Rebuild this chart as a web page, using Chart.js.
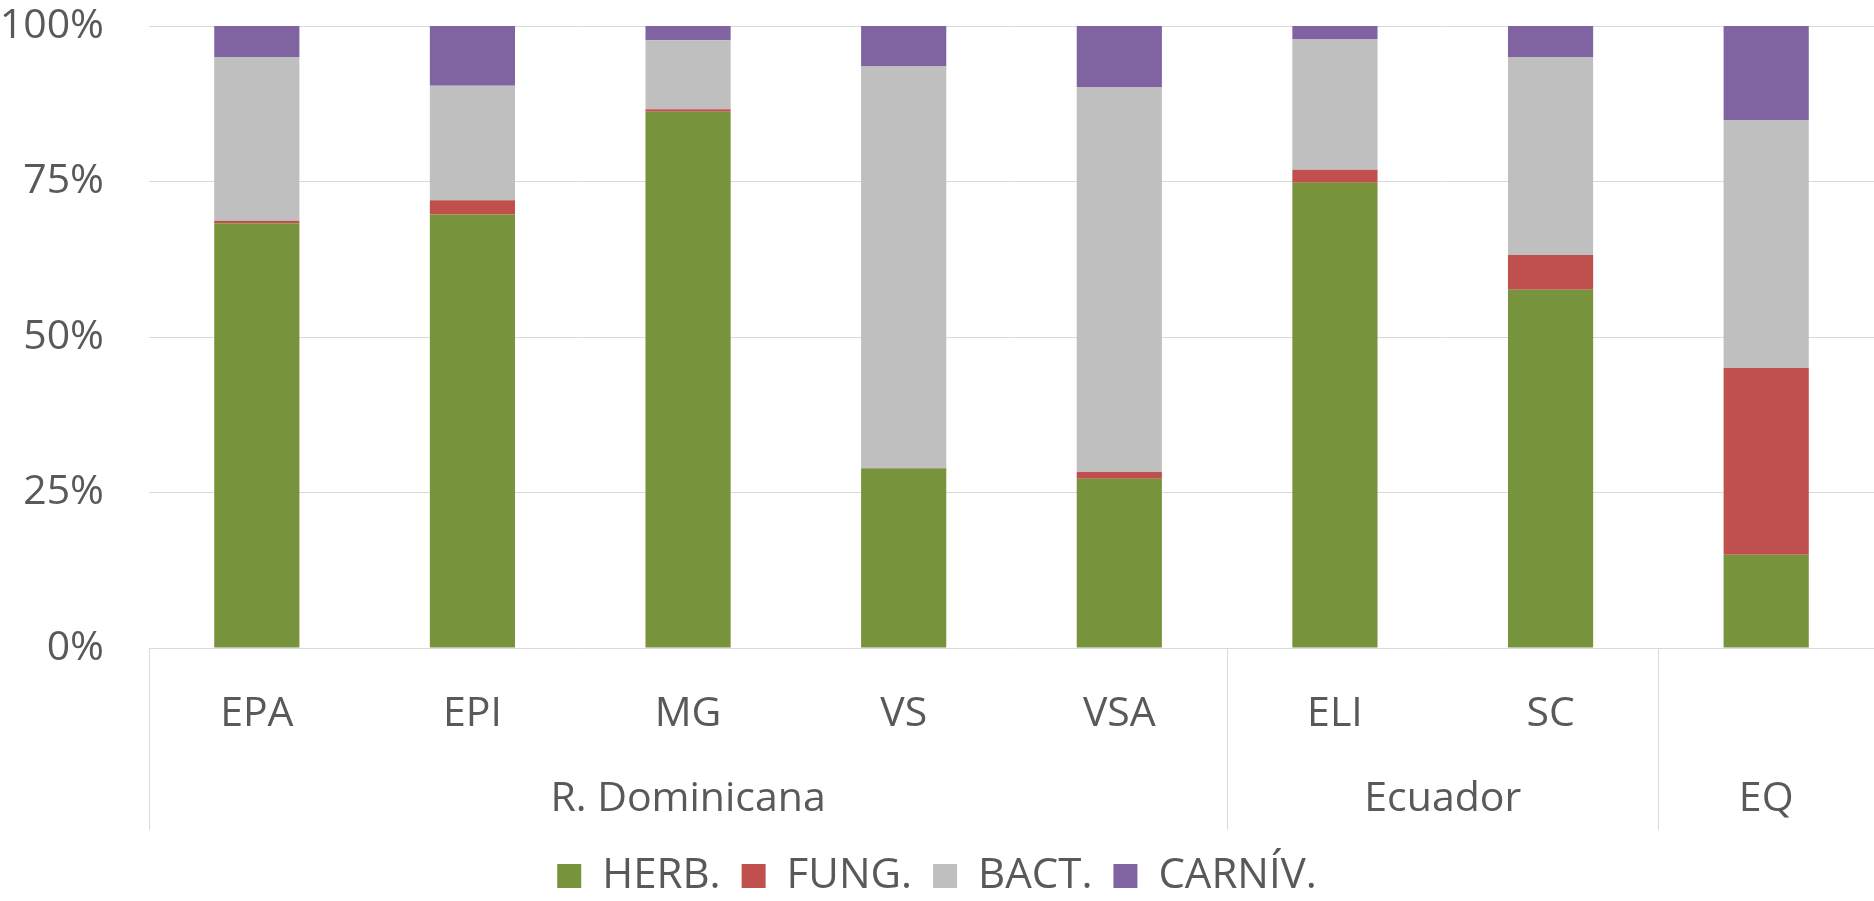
<!DOCTYPE html>
<html>
<head>
<meta charset="utf-8">
<script src="https://cdn.jsdelivr.net/npm/chart.js@4.4.1/dist/chart.umd.min.js"></script>
<style>
  html, body { margin: 0; padding: 0; background: #ffffff; }
  #wrap { width: 1874px; height: 901px; position: relative; }
</style>
</head>
<body>
<div id="wrap"><canvas id="c"></canvas></div>
<script>
// ---- data ----
const categories = ['EPA', 'EPI', 'MG', 'VS', 'VSA', 'ELI', 'SC', ''];
const groupNames = ['R. Dominicana', 'Ecuador', 'EQ'];
const groupSizes = [5, 2, 1];
const herb   = [68.3, 69.7, 86.2, 28.9, 27.2, 74.8, 57.6, 15.0];
const fung   = [ 0.4,  2.3,  0.4,  0.0,  1.1,  2.1,  5.6, 30.0];
const bact   = [26.3, 18.4, 11.1, 64.6, 61.9, 21.0, 31.8, 39.9];
const carniv = [ 5.0,  9.6,  2.3,  6.5,  9.8,  2.1,  5.0, 15.1];
const seriesNames = ['HERB.', 'FUNG.', 'BACT.', 'CARNÍV.'];
const yTicks = [0, 25, 50, 75, 100];

const colors = ['#77933C', '#C0504D', '#BFBFBF', '#8064A2'];
const FONT = '"Open Sans", "Liberation Sans", sans-serif';
const TXT = '#595959';
const LINE = '#D9D9D9';

// group centers (in category index units) built from group sizes
const groupCenters = [];
const groupBounds = [0];
(function () {
  let start = 0;
  groupSizes.forEach(s => {
    groupCenters.push(start + (s - 1) / 2);
    start += s;
    groupBounds.push(start);
  });
})();

const separatorPlugin = {
  id: 'separators',
  afterDraw(chart) {
    const x = chart.scales.x;
    const x2 = chart.scales.x2;
    const ctx = chart.ctx;
    ctx.save();
    ctx.strokeStyle = LINE;
    ctx.lineWidth = 1;
    groupBounds.forEach(b => {
      const px = Math.round(x.getPixelForValue(b - 0.5)) + 0.5;
      ctx.beginPath();
      ctx.moveTo(px, chart.chartArea.bottom);
      ctx.lineTo(px, x2.bottom - 4);
      ctx.stroke();
    });
    ctx.restore();
  }
};

const datasets = [herb, fung, bact, carniv].map((d, i) => ({
  label: seriesNames[i],
  data: d,
  backgroundColor: colors[i],
  borderWidth: 0,
  barPercentage: 0.395,
  categoryPercentage: 1.0
}));

function noSidePad(s) { s.paddingLeft = 0; s.paddingRight = 0; }

new Chart(document.getElementById('c'), {
  type: 'bar',
  data: { labels: categories, datasets },
  plugins: [separatorPlugin],
  options: {
    responsive: true,
    maintainAspectRatio: false,
    animation: false,
    layout: { padding: { top: 26, left: 0, right: 0, bottom: -6 } },
    plugins: {
      tooltip: { enabled: false },
      legend: {
        position: 'bottom',
        labels: {
          font: { family: FONT, size: 42 },
          color: TXT,
          boxWidth: 24,
          boxHeight: 24,
          padding: 21
        }
      }
    },
    scales: {
      y: {
        stacked: true,
        min: 0,
        max: 100,
        afterBuildTicks(axis) { axis.ticks = yTicks.map(v => ({ value: v })); },
        afterFit(s) { s.width = 149; s.paddingTop = 0; s.paddingBottom = 0; },
        ticks: {
          callback: v => v + '%',
          font: { family: FONT, size: 41 },
          color: TXT,
          padding: 45
        },
        grid: { color: LINE, lineWidth: 1, drawTicks: false },
        border: { display: false }
      },
      x: {
        stacked: true,
        afterFit(s) { s.height = 90; noSidePad(s); },
        ticks: {
          font: { family: FONT, size: 41 },
          color: TXT,
          padding: 42,
          autoSkip: false,
          maxRotation: 0
        },
        grid: { display: false, drawTicks: false },
        border: { display: false }
      },
      x2: {
        type: 'linear',
        position: 'bottom',
        offset: false,
        min: -0.5,
        max: categories.length - 0.5,
        afterBuildTicks(axis) { axis.ticks = groupCenters.map(v => ({ value: v })); },
        afterFit(s) { s.height = 96; noSidePad(s); },
        ticks: {
          callback: (v, i) => groupNames[i],
          font: { family: FONT, size: 41 },
          color: TXT,
          padding: 37,
          autoSkip: false,
          maxRotation: 0
        },
        grid: { display: false, drawTicks: false },
        border: { display: false }
      }
    }
  }
});
</script>
</body>
</html>
